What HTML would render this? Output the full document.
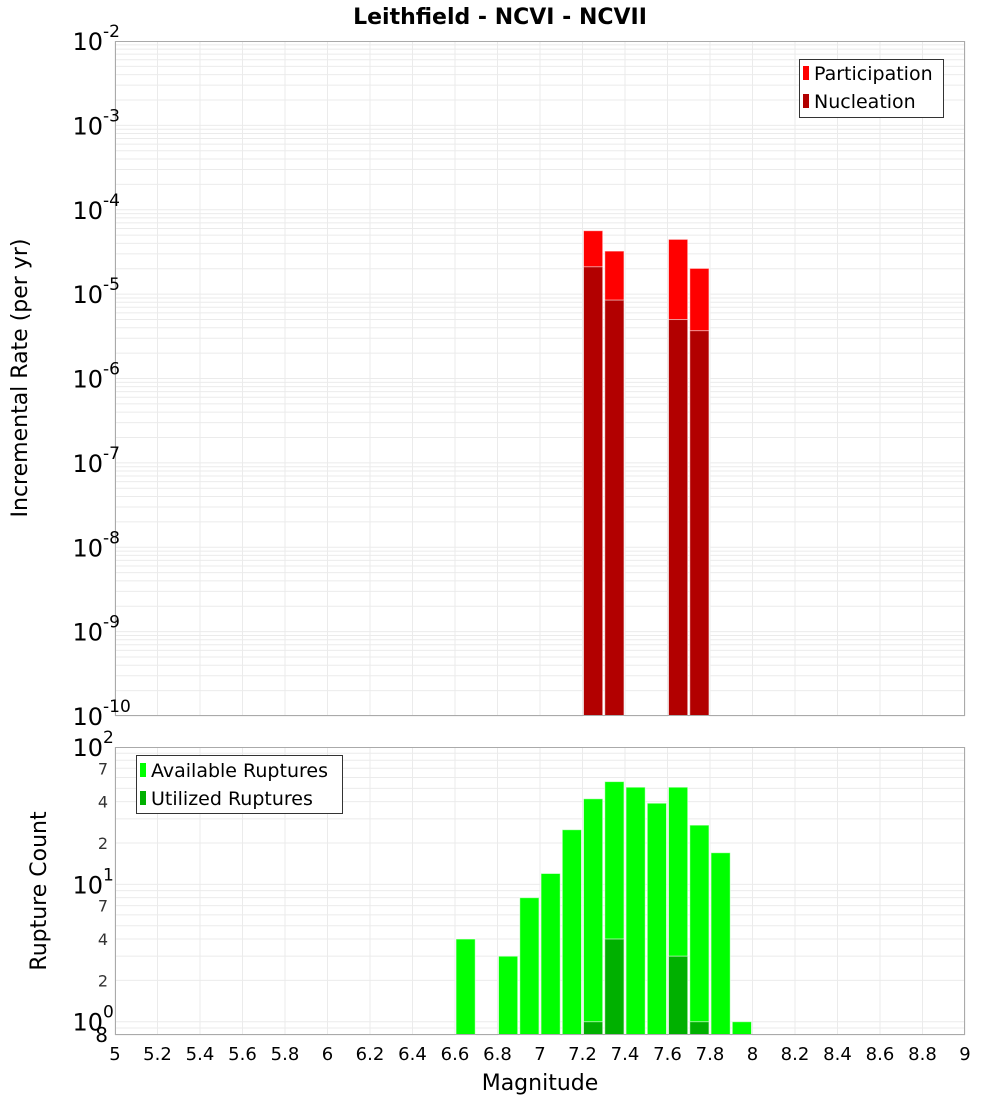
<!DOCTYPE html>
<html><head><meta charset="utf-8"><style>
body{margin:0;background:#fff;}
svg text{font-family:"DejaVu Sans","Liberation Sans",sans-serif;}
</style></head><body>
<svg id="c" width="1000" height="1100" xmlns="http://www.w3.org/2000/svg">
<text x="500" y="24" text-anchor="middle" font-size="22" font-weight="bold">Leithfield - NCVI - NCVII</text>
<g id="topg"></g>
<g id="botg"></g>
<text transform="translate(27,378) rotate(-90)" text-anchor="middle" font-size="22">Incremental Rate (per yr)</text>
<text transform="translate(46,891) rotate(-90)" text-anchor="middle" font-size="22">Rupture Count</text>
<text x="540" y="1090" text-anchor="middle" font-size="22">Magnitude</text>
<g>
<rect x="799.5" y="59.5" width="144" height="58" fill="#fff" stroke="#333"/>
<rect x="803" y="66" width="6" height="14" fill="#ff0000"/>
<text x="814" y="80" font-size="19">Participation</text>
<rect x="803" y="94" width="6" height="14" fill="#b20000"/>
<text x="814" y="108" font-size="19">Nucleation</text>
</g>
<g>
<rect x="136.5" y="755.5" width="206" height="58" fill="#fff" stroke="#333"/>
<rect x="140" y="763" width="6" height="14" fill="#00ff00"/>
<text x="151" y="777" font-size="19">Available Ruptures</text>
<rect x="140" y="791" width="6" height="14" fill="#00b000"/>
<text x="151" y="805" font-size="19">Utilized Ruptures</text>
</g>
</svg>
<script>
const rateMags=[7.25,7.35,7.65,7.75];
const participation=[5.65e-5,3.24e-5,4.46e-5,2.02e-5];
const nucleation=[2.11e-5,8.5e-6,5.0e-6,3.69e-6];
const countMags=[6.65,6.85,6.95,7.05,7.15,7.25,7.35,7.45,7.55,7.65,7.75,7.85,7.95];
const available=[4,3,8,12,25,42,56,51,39,51,27,17,1];
const utilMags=[7.25,7.35,7.65,7.75];
const utilized=[1,4,3,1];
const xTicks=[5,5.2,5.4,5.6,5.8,6,6.2,6.4,6.6,6.8,7,7.2,7.4,7.6,7.8,8,8.2,8.4,8.6,8.8,9];
const rateExps=[-2,-3,-4,-5,-6,-7,-8,-9,-10];
const countExps=[0,1,2];
const countMinor=[2,4,7];

const NS="http://www.w3.org/2000/svg";
const X0=115,X1=965;
const xs=m=>X0+(m-5)/4*(X1-X0);
const T0=41,T1=716;
const yTop=v=>T0+(-2-Math.log10(v))/8*(T1-T0);
const B0=747,B1=1035,bLo=Math.log10(0.8);
const yBot=v=>B1-(Math.log10(v)-bLo)/(2-bLo)*(B1-B0);
function el(p,t,a){const e=document.createElementNS(NS,t);for(const k in a)e.setAttribute(k,a[k]);p.appendChild(e);return e;}
const topG=document.getElementById('topg'),botG=document.getElementById('botg');

function grid(g,y0,y1,yf,lo,hi){
  el(g,'rect',{x:X0,y:y0,width:X1-X0,height:y1-y0,fill:'#fff'});
  for(let m=5;m<=9.001;m+=0.2){const x=xs(m);el(g,'line',{x1:x,x2:x,y1:y0,y2:y1,stroke:'#ebebeb'});}
  for(let e=lo;e<hi;e++)for(let k=1;k<10;k++){const v=k*Math.pow(10,e);const y=yf(v);if(y<y0-0.5||y>y1+0.5)continue;el(g,'line',{x1:X0,x2:X1,y1:y,y2:y,stroke:'#ebebeb'});}
}
grid(topG,T0,T1,yTop,-10,-2);
grid(botG,B0,B1,yBot,-1,2);

function bar(g,m,v,base,yf,fill,name){
  const r=el(g,'rect',{x:xs(m-0.05)+1,y:yf(v),width:xs(m+0.05)-xs(m-0.05)-2,height:base-yf(v),fill:fill,stroke:'#fff','stroke-opacity':0.6,'stroke-width':1});
  
  
}
rateMags.forEach((m,i)=>bar(topG,m,participation[i],T1,yTop,'#ff0000','participation-bar'));
rateMags.forEach((m,i)=>bar(topG,m,nucleation[i],T1,yTop,'#b20000','nucleation-bar'));
countMags.forEach((m,i)=>bar(botG,m,available[i],B1,yBot,'#00ff00','available-bar'));
utilMags.forEach((m,i)=>bar(botG,m,utilized[i],B1,yBot,'#00b000','utilized-bar'));

el(topG,'rect',{x:X0+0.5,y:T0+0.5,width:X1-X0-1,height:T1-T0-1,fill:'none',stroke:'#aaa'});
el(botG,'rect',{x:X0+0.5,y:B0+0.5,width:X1-X0-1,height:B1-B0-1,fill:'none',stroke:'#aaa'});

function pow(g,y,e,name){
  const t=el(g,'text',{x:103,y:y+9,'font-size':24,'text-anchor':'end'});t.textContent='10';
  
  
  const s=el(g,'text',{x:103,y:y-4,'font-size':17});s.textContent=String(e);
  
  
}
rateExps.forEach(e=>pow(topG,yTop(Math.pow(10,e)),e,'rate-tick-label'));
countExps.forEach(e=>pow(botG,yBot(Math.pow(10,e)),e,'count-tick-label'));
countExps.slice(0,2).forEach(e=>countMinor.forEach(k=>{
  const t=el(botG,'text',{x:108,y:yBot(k*Math.pow(10,e))+6,'font-size':16,'text-anchor':'end',fill:'#333'});t.textContent=String(k);
  
  
}));
{const t=el(botG,'text',{x:108,y:1042,'font-size':20,'text-anchor':'end'});t.textContent='8';

}
xTicks.forEach(m=>{
  const t=el(botG,'text',{x:xs(m),y:1060,'font-size':18,'text-anchor':'middle'});t.textContent=String(m);
  
  
});
</script>
</body></html>
